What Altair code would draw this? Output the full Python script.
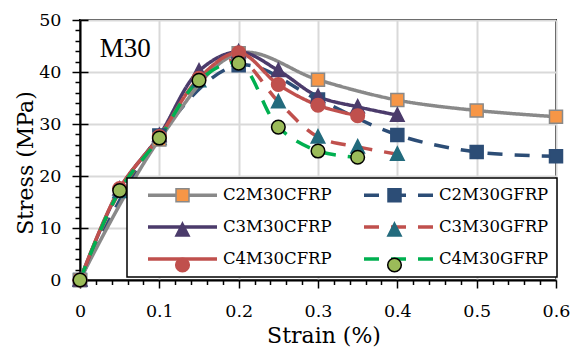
import altair as alt
import pandas as pd

FONT = "Liberation Serif"
GFONT = "DejaVu Serif"

# ---- data ----
# legend order (column-major: left column CFRP, right column GFRP)
series_names = ["C2M30CFRP", "C3M30CFRP", "C4M30CFRP", "C2M30GFRP", "C3M30GFRP", "C4M30GFRP"]

strain_c2 = [0, 0.1, 0.2, 0.3, 0.4, 0.5, 0.6]
stress_c2cfrp = [0, 27.0, 43.6, 38.5, 34.6, 32.6, 31.4]
stress_c2gfrp = [0, 27.8, 41.3, 34.7, 27.9, 24.6, 23.8]

strain_c3 = [0, 0.05, 0.1, 0.15, 0.2, 0.25, 0.3, 0.35, 0.4]
stress_c3cfrp = [0, 17.5, 27.8, 40.2, 43.9, 40.3, 35.3, 33.3, 31.7]
stress_c3gfrp = [0, 17.0, 27.2, 38.3, 42.3, 34.3, 27.5, 25.6, 24.2]

strain_c4 = [0, 0.05, 0.1, 0.15, 0.2, 0.25, 0.3, 0.35]
stress_c4cfrp = [0, 17.6, 27.6, 38.8, 43.7, 37.6, 33.6, 31.6]
stress_c4gfrp = [0, 17.2, 27.3, 38.4, 41.7, 29.4, 24.8, 23.6]

major_x = [0, 0.1, 0.2, 0.3, 0.4, 0.5, 0.6]
minor_x = [0.02, 0.04, 0.06, 0.08, 0.12, 0.14, 0.16, 0.18, 0.22, 0.24, 0.26, 0.28,
           0.32, 0.34, 0.36, 0.38, 0.42, 0.44, 0.46, 0.48, 0.52, 0.54, 0.56, 0.58]
major_y = [0, 10, 20, 30, 40, 50]
minor_y = [2, 4, 6, 8, 12, 14, 16, 18, 22, 24, 26, 28, 32, 34, 36, 38, 42, 44, 46, 48]

ann_x = [0.025]
ann_y = [42.9]
ann_text = ["M30"]

# draw order (later = on top)
draw_order = [
    ("C2M30GFRP", strain_c2, stress_c2gfrp),
    ("C3M30GFRP", strain_c3, stress_c3gfrp),
    ("C2M30CFRP", strain_c2, stress_c2cfrp),
    ("C3M30CFRP", strain_c3, stress_c3cfrp),
    ("C4M30CFRP", strain_c4, stress_c4cfrp),
    ("C4M30GFRP", strain_c4, stress_c4gfrp),
]
rows = []
for name, xs, ys in draw_order:
    for xv, yv in zip(xs, ys):
        rows.append({"series": name, "strain": xv, "stress": yv})
df = pd.DataFrame(rows)
ann = pd.DataFrame({"x": ann_x, "y": ann_y, "t": ann_text})

# ---- styles (same order as series_names) ----
line_colors = ["#898989", "#4B3B6B", "#C0504D", "#2C4D76", "#C0504D", "#00B050"]
fill_colors = ["#F79646", "#4B3B6B", "#C0504D", "#2C4D76", "#236B7D", "#9BBB59"]
edge_colors = ["#898989", "#4B3B6B", "#C0504D", "#2C4D76", "#236B7D", "#000000"]
dashes = [[1, 0], [1, 0], [1, 0], [15, 12], [15, 12], [15, 12]]

# marker shapes in the plot (unit = 5 px with symbol size 100)
SQ = "M-1.3,-1.3H1.3V1.3H-1.3Z"
TRI = "M0,-1.45L1.36,1.2L-1.36,1.2Z"
CIR = ("M1.36,0C1.36,0.751,0.751,1.36,0,1.36C-0.751,1.36,-1.36,0.751,-1.36,0"
       "C-1.36,-0.751,-0.751,-1.36,0,-1.36C0.751,-1.36,1.36,-0.751,1.36,0Z")
shapes = [SQ, TRI, CIR, SQ, TRI, CIR]

# legend symbols: shifted right so they sit in the middle of the legend line
LEXT = "M-1.65,0M0.8,0"
SQ_L = LEXT + "M6.4,-1.3H9V1.3H6.4Z"
TRI_L = LEXT + "M7.7,-1.45L9.06,1.2L6.34,1.2Z"
CIR_L = LEXT + ("M9.06,0C9.06,0.751,8.451,1.36,7.7,1.36C6.949,1.36,6.34,0.751,6.34,0"
                "C6.34,-0.751,6.949,-1.36,7.7,-1.36C8.451,-1.36,9.06,-0.751,9.06,0Z")
legend_shapes = [SQ_L, TRI_L, CIR_L, SQ_L, TRI_L, CIR_L]
LINE_PATH = "M-1.65,0M0.8,0H14.6"
SYM_SIZE = 100

x_scale = alt.Scale(domain=[0, 0.6], nice=False, zero=False)
y_scale = alt.Scale(domain=[0, 50], nice=False)

common_leg = dict(title=None, orient="none", legendX=47, legendY=158, columns=2,
                  direction="vertical", labelFont=GFONT, labelFontWeight=400,
                  labelFontSize=16.5,
                  labelColor="black", padding=8.75, rowPadding=15, columnPadding=13,
                  labelOffset=70.75, cornerRadius=0, symbolSize=SYM_SIZE)

line_legend = alt.Legend(symbolType=LINE_PATH, symbolStrokeWidth=3.5, fillColor="white",
                         strokeColor="black", **common_leg)
marker_legend = alt.Legend(symbolStrokeWidth=1.5, labelOpacity=0,
                           strokeColor="transparent", **common_leg)

main_x_axis = alt.Axis(orient="bottom", values=major_x, format=".1~f", labelFont=GFONT,
                       labelFontWeight=400,
                       labelFontSize=17.5, labelColor="black", labelPadding=14,
                       labelFlush=False, labelOverlap=False, tickSize=8, tickWidth=1.5,
                       tickColor="black", domainColor="black", domainWidth=2, grid=True,
                       gridColor="#d9d9d9", gridWidth=2, title="Strain (%)",
                       titleFont=GFONT,
                       titleFontSize=22, titleFontWeight=400, titleColor="black",
                       titleBaseline="alphabetic", titleX=243.5, titleY=62)
main_y_axis = alt.Axis(orient="left", values=major_y, labelFont=GFONT, labelFontSize=17.5,
                       labelFontWeight=400,
                       labelColor="black", labelPadding=11, labelFlush=False,
                       labelOverlap=False, tickSize=8, tickWidth=1.5, tickColor="black",
                       domainColor="black", domainWidth=2, grid=True, gridColor="#d9d9d9",
                       gridWidth=2, title="Stress (MPa)",
                       titleFont=GFONT, titleFontSize=22,
                       titleFontWeight=400, titleColor="black",
                       titleBaseline="alphabetic", titleX=-48, titleY=142.5)

lines = alt.Chart(df).mark_line(interpolate="catmull-rom", strokeWidth=3.5).encode(
    x=alt.X("strain:Q", scale=x_scale, axis=main_x_axis),
    y=alt.Y("stress:Q", scale=y_scale, axis=main_y_axis),
    color=alt.Color("series:N", scale=alt.Scale(domain=series_names, range=line_colors),
                    legend=line_legend),
    strokeDash=alt.StrokeDash("series:N", scale=alt.Scale(domain=series_names, range=dashes),
                              legend=line_legend),
    order=alt.Order("strain:Q"),
)

points = alt.Chart(df).mark_point(filled=True, size=SYM_SIZE, strokeWidth=1.5,
                                  opacity=1).encode(
    x=alt.X("strain:Q", scale=x_scale, axis=None),
    y=alt.Y("stress:Q", scale=y_scale, axis=None),
    fill=alt.Fill("series:N", scale=alt.Scale(domain=series_names, range=fill_colors),
                  legend=None),
    stroke=alt.Stroke("series:N", scale=alt.Scale(domain=series_names, range=edge_colors),
                      legend=None),
    shape=alt.Shape("series:N", scale=alt.Scale(domain=series_names, range=shapes),
                    legend=None),
)

# legend-only layer for the marker symbols (no rows drawn)
legend_markers = alt.Chart(df).transform_filter("false").mark_point(
    filled=True, size=SYM_SIZE, strokeWidth=1.5, opacity=1).encode(
    x=alt.X("strain:Q", scale=x_scale, axis=None),
    y=alt.Y("stress:Q", scale=y_scale, axis=None),
    fill=alt.Fill("series:N", scale=alt.Scale(domain=series_names, range=fill_colors),
                  legend=marker_legend),
    stroke=alt.Stroke("series:N", scale=alt.Scale(domain=series_names, range=edge_colors),
                      legend=marker_legend),
    shape=alt.Shape("series:N", scale=alt.Scale(domain=series_names, range=legend_shapes),
                    legend=marker_legend),
)

minor = alt.Chart(df).mark_point(opacity=0).encode(
    x=alt.X("strain:Q", scale=x_scale,
            axis=alt.Axis(orient="bottom", values=minor_x, labels=False, domain=False,
                          grid=False, tickSize=4.5, tickWidth=1.5, tickColor="black",
                          title=None)),
    y=alt.Y("stress:Q", scale=y_scale,
            axis=alt.Axis(orient="left", values=minor_y, labels=False, domain=False,
                          grid=False, tickSize=5, tickWidth=1.5, tickColor="black",
                          title=None)),
)

inner = alt.Chart(df).mark_point(opacity=0).encode(
    x=alt.X("strain:Q", scale=x_scale, axis=None),
    y=alt.Y("stress:Q", scale=y_scale,
            axis=alt.Axis(orient="left", values=major_y, labels=False, domain=False,
                          grid=False, tickSize=8, tickWidth=1.5, tickColor="black",
                          title=None, offset=-8)),
)

label = alt.Chart(ann).mark_text(align="left", baseline="alphabetic", font=FONT,
                                 fontSize=27, color="black").encode(
    x=alt.X("x:Q", scale=x_scale, axis=None),
    y=alt.Y("y:Q", scale=y_scale, axis=None),
    text="t:N",
)

chart = alt.layer(lines, points, legend_markers, minor, inner, label).resolve_axis(
    x="independent", y="independent"
).resolve_scale(
    fill="independent", stroke="independent", shape="independent"
).resolve_legend(
    color="independent", strokeDash="independent", fill="independent",
    stroke="independent", shape="independent"
).properties(
    width=476, height=260,
    autosize=alt.AutoSizeParams(type="none"),
    padding={"left": 72, "top": 12, "right": 15, "bottom": 67},
).configure_view(stroke="black", strokeWidth=2).configure_legend(strokeWidth=1.5)

chart.save("out.html", embed_options={"renderer": "svg", "actions": False})
